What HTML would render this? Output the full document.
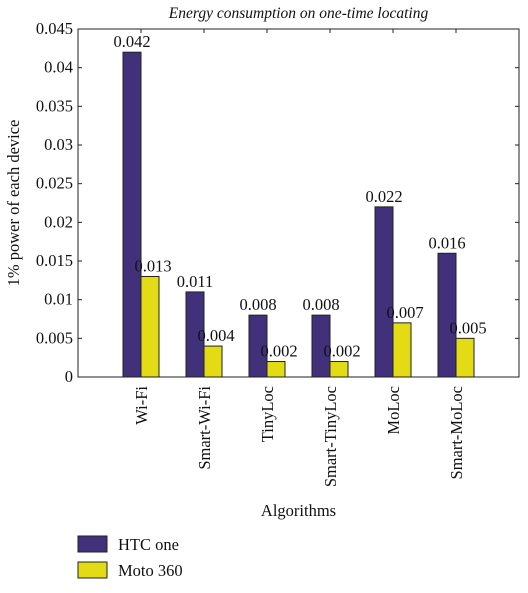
<!DOCTYPE html>
<html><head><meta charset="utf-8"><style>
body{margin:0;background:#fff;}
svg text{font-family:"Liberation Serif",serif;fill:#111;}
</style></head><body>
<svg width="528" height="588" viewBox="0 0 528 588">
<g id="g"></g>
</svg>
<script>
const categories=["Wi-Fi","Smart-Wi-Fi","TinyLoc","Smart-TinyLoc","MoLoc","Smart-MoLoc"];
const htcValues=[0.042,0.011,0.008,0.008,0.022,0.016];
const motoValues=[0.013,0.004,0.002,0.002,0.007,0.005];
const htcLabels=["0.042","0.011","0.008","0.008","0.022","0.016"];
const motoLabels=["0.013","0.004","0.002","0.002","0.007","0.005"];
const yTicks=[0,0.005,0.01,0.015,0.02,0.025,0.03,0.035,0.04,0.045];
const yTickLabels=["0","0.005","0.01","0.015","0.02","0.025","0.03","0.035","0.04","0.045"];
const L=78,R=519,T=29,B=377,yMax=0.045,FS=16.5;
const NS="http://www.w3.org/2000/svg";
const g=document.getElementById('g');
function y(v){return B-(v/yMax)*(B-T);}
function x(i){return L+(R-L)/(categories.length+1)*(i+1);}
function mk(tag,a,txt){const e=document.createElementNS(NS,tag);for(const k in a)e.setAttribute(k,a[k]);if(txt!==undefined)e.textContent=txt;g.appendChild(e);return e;}
let e;
e=mk('rect',{x:L,y:T,width:R-L,height:B-T,fill:'none',stroke:'#222','stroke-width':1});


yTicks.forEach((v,i)=>{
 mk('line',{x1:L,x2:L+4,y1:y(v),y2:y(v),stroke:'#222'});
 mk('line',{x1:R-4,x2:R,y1:y(v),y2:y(v),stroke:'#222'});
 e=mk('text',{x:L-5,y:y(v)+5,'text-anchor':'end','font-size':FS},yTickLabels[i]);
 
 
});
const bw=18;
categories.forEach((c,i)=>{
 const cx=x(i);
 mk('line',{x1:cx,x2:cx,y1:T,y2:T+4,stroke:'#222'});
 mk('line',{x1:cx,x2:cx,y1:B,y2:B-4,stroke:'#222'});
 e=mk('rect',{x:cx-bw,y:y(htcValues[i]),width:bw,height:B-y(htcValues[i]),fill:'#41307a',stroke:'#222','stroke-width':1});
 
 
 e=mk('rect',{x:cx,y:y(motoValues[i]),width:bw,height:B-y(motoValues[i]),fill:'#e3dc14',stroke:'#222','stroke-width':1});
 
 
 e=mk('text',{x:cx-bw/2,y:y(htcValues[i])-5,'text-anchor':'middle','font-size':FS},htcLabels[i]);
 
 
 e=mk('text',{x:cx+bw/2+3,y:y(motoValues[i])-5,'text-anchor':'middle','font-size':FS},motoLabels[i]);
 
 
 e=mk('text',{x:0,y:0,'text-anchor':'end','font-size':FS,transform:`translate(${cx+6},${B+9}) rotate(-90)`},c);
 
 
});
e=mk('text',{x:(L+R)/2,y:18,'text-anchor':'middle','font-size':15.5,'font-style':'italic'},'Energy consumption on one-time locating');


e=mk('text',{x:0,y:0,'text-anchor':'middle','font-size':FS,transform:`translate(19,${(T+B)/2}) rotate(-90)`},'1% power of each device');


e=mk('text',{x:(L+R)/2,y:516,'text-anchor':'middle','font-size':FS},'Algorithms');


e=mk('rect',{x:78,y:536,width:29,height:16,fill:'#41307a',stroke:'#222'});


e=mk('text',{x:118,y:550,'font-size':FS},'HTC one');


e=mk('rect',{x:78,y:562,width:29,height:16,fill:'#e3dc14',stroke:'#222'});


e=mk('text',{x:118,y:576,'font-size':FS},'Moto 360');


</script>
</body></html>
